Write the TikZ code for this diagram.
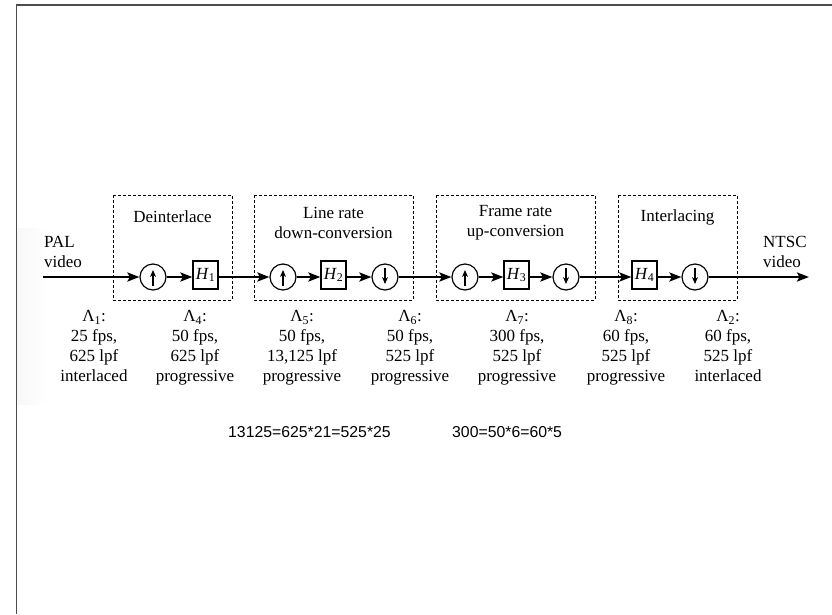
\documentclass[tikz,border=0pt]{standalone}
\usepackage{fontspec}
\setmainfont{Liberation Serif}
\newfontfamily\eqfont{Liberation Sans}
\usetikzlibrary{arrows.meta,calc}
\tikzset{
  lbl/.style={font=\fontsize{17}{20}\selectfont, align=center, inner sep=0pt},
  rs/.style={circle, draw, line width=1.2pt, minimum size=26pt, inner sep=0pt},
  upS/.style={rs, path picture={\draw[line width=1.6pt,-{Stealth[length=7pt,width=6pt]}]
      ([yshift=-9pt]path picture bounding box.center) -- ([yshift=7pt]path picture bounding box.center);}},
  downS/.style={rs, path picture={\draw[line width=1.6pt,-{Stealth[length=7pt,width=6pt]}]
      ([yshift=9pt]path picture bounding box.center) -- ([yshift=-7pt]path picture bounding box.center);}},
  filt/.style={draw, line width=1.2pt, minimum width=25pt, minimum height=28pt, inner sep=0pt,
      font=\fontsize{17}{19}\selectfont},
  grp/.style={draw, line width=1pt, dash pattern=on 3pt off 2pt},
  sig/.style={line width=2.8pt, -{Stealth[length=12pt,width=9pt,inset=2.5pt]}},
  eq/.style={font=\eqfont\fontsize{15.8}{18}\selectfont, inner sep=0pt, anchor=west},
}
\begin{document}
\begin{tikzpicture}[x=1pt,y=-1pt]
\useasboundingbox (0,0) rectangle (832,614);
\fill[white] (0,0) rectangle (832,614);
% faint tint of the pasted picture
\shade[left color=black!3, right color=white] (17,228) rectangle (48,404);
% page frame
\draw[line width=1.5pt, black!70] (832,5) -- (16.5,5) -- (16.5,614);

% group boxes
\draw[grp] (113,195) rectangle (232,300);
\draw[grp] (254,195) rectangle (413,300);
\draw[grp] (436,195) rectangle (595,300);
\draw[grp] (618,195) rectangle (737,300);

% group titles
\node[lbl] (t1) at (172.5,217) {Deinterlace};
\node[lbl] (t2) at (333.5,223) {Line rate\\down-conversion};
\node[lbl] (t3) at (515.5,223) {Frame rate\\up-conversion};
\node[lbl] (t4) at (677.5,217) {Interlacing};

% in / out labels
\node[lbl, align=left, anchor=west] (pal) at (44,252) {PAL\\video};
\node[lbl, align=left, anchor=west] (ntsc) at (763,252) {NTSC\\video};

% signal chain
\coordinate (in) at (43,277);
\coordinate (out) at (809,277);
\node[upS]   (u1) at (153,277) {};
\node[filt]  (h1) at (205.5,275) {\textit{H}\textsubscript{1}};
\node[upS]   (u2) at (283,277) {};
\node[filt]  (h2) at (333.5,275) {\textit{H}\textsubscript{2}};
\node[downS] (d1) at (385,277) {};
\node[upS]   (u3) at (465,277) {};
\node[filt]  (h3) at (516.5,275) {\textit{H}\textsubscript{3}};
\node[downS] (d2) at (566,277) {};
\node[filt]  (h4) at (644.5,275) {\textit{H}\textsubscript{4}};
\node[downS] (d3) at (695,277) {};

\draw[sig] (in) -- (u1);
\draw[sig] (u1) -- (h1.west |- u1);
\draw[sig] (h1.east |- u1) -- (u2);
\draw[sig] (u2) -- (h2.west |- u2);
\draw[sig] (h2.east |- u2) -- (d1);
\draw[sig] (d1) -- (u3);
\draw[sig] (u3) -- (h3.west |- u3);
\draw[sig] (h3.east |- u3) -- (d2);
\draw[sig] (d2) -- (h4.west |- d2);
\draw[sig] (h4.east |- d3) -- (d3);
\draw[sig] (d3) -- (out);

% lattice labels
\node[lbl, anchor=north] (l1) at (94,310)  {Λ\textsubscript{1}:\\25 fps,\\625 lpf\\interlaced};
\node[lbl, anchor=north] (l4) at (195,310) {Λ\textsubscript{4}:\\50 fps,\\625 lpf\\progressive};
\node[lbl, anchor=north] (l5) at (302,310) {Λ\textsubscript{5}:\\50 fps,\\13,125 lpf\\progressive};
\node[lbl, anchor=north] (l6) at (410,310) {Λ\textsubscript{6}:\\50 fps,\\525 lpf\\progressive};
\node[lbl, anchor=north] (l7) at (517,310) {Λ\textsubscript{7}:\\300 fps,\\525 lpf\\progressive};
\node[lbl, anchor=north] (l8) at (626,310) {Λ\textsubscript{8}:\\60 fps,\\525 lpf\\progressive};
\node[lbl, anchor=north] (l2) at (728,310) {Λ\textsubscript{2}:\\60 fps,\\525 lpf\\interlaced};

% equations
\node[eq] (e1) at (228,432) {13125=625*21=525*25};
\node[eq] (e2) at (452,432) {300=50*6=60*5};
\end{tikzpicture}
\end{document}
